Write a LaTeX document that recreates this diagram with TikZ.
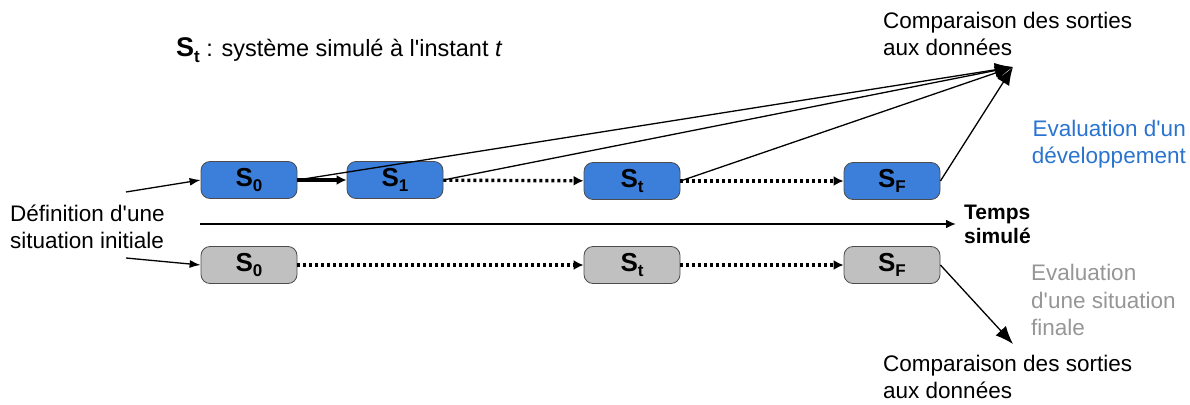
\documentclass[tikz,border=0pt]{standalone}
\usepackage{fontspec}
\setmainfont{Liberation Sans}
\usepackage{xcolor}
\usetikzlibrary{arrows.meta,positioning}

\definecolor{stateblue}{RGB}{59,127,219}
\definecolor{textblue}{RGB}{42,116,207}
\definecolor{stategray}{RGB}{192,192,192}
\definecolor{textgray}{RGB}{150,150,150}

% subscript of a state name
\newcommand{\stsub}[1]{\raisebox{-0.22em}{\fontsize{17}{17}\selectfont\bfseries #1}}

\tikzset{
    state/.style={draw=black!70, line width=0.8pt, rounded corners=9pt,
        minimum width=96pt, minimum height=37pt, inner sep=0pt,
        font=\fontsize{26}{30}\selectfont\bfseries},
    simstate/.style={state, fill=stateblue},
    finstate/.style={state, fill=stategray},
    lbl/.style={font=\fontsize{22.5}{27.5}\selectfont, align=left, inner sep=0pt},
    thin arrow/.style={line width=1.3pt, -{Latex[length=11pt,width=8pt]}},
    big arrow/.style={line width=1.3pt, -{Latex[length=18pt,width=14pt]}},
    step arrow/.style={line width=3.4pt, -{Latex[length=10pt,width=10pt]}},
    dot arrow/.style={line width=3.4pt, dash pattern=on 3pt off 3pt,
        -{Latex[length=10pt,width=10pt]}}
}

\begin{document}
\begin{tikzpicture}[x=1pt,y=-1pt]
    \useasboundingbox (0,0) rectangle (1190,404);

    % Legend
    \node[lbl, anchor=west, font=\fontsize{23.5}{27.5}\selectfont] (legend) at (176,50)
        {{\fontsize{27}{27}\selectfont\textbf{S}\stsub{t}} : système simulé à l\textquotesingle instant \textit{t}};

    % Simulated development (blue row)
    \node[simstate] (s0) at (249,180) {S\stsub{0}};
    \node[simstate] (s1) at (395,180) {S\stsub{1}};
    \node[simstate] (st) at (632,181) {S\stsub{t}};
    \node[simstate] (sf) at (892,181) {S\stsub{F}};

    \draw[step arrow] (s0) -- (s1);
    \draw[dot arrow] (s1) -- (st);
    \draw[dot arrow] (st) -- (sf);

    % Final situation (gray row)
    \node[finstate] (g0) at (249,265) {S\stsub{0}};
    \node[finstate] (gt) at (632,265) {S\stsub{t}};
    \node[finstate] (gf) at (892,265) {S\stsub{F}};

    \draw[dot arrow] (g0) -- (gt);
    \draw[dot arrow] (gt) -- (gf);

    % Simulated time
    \coordinate (t0) at (200,224);
    \coordinate (t1) at (956,224);
    \draw[line width=2.4pt, -{Latex[length=10pt,width=9pt]}] (t0) -- (t1);
    \node[lbl, anchor=west, font=\fontsize{21}{24}\selectfont\bfseries] (time) at (964,224)
        {Temps\\simulé};

    % Initial situation
    \node[lbl, anchor=west] (init) at (10,227) {Définition d\textquotesingle une\\situation initiale};
    \coordinate (i0) at (126,192);
    \coordinate (i1) at (126,258);
    \draw[thin arrow] (i0) -- (s0.west);
    \draw[thin arrow] (i1) -- (g0.west);

    % Comparison with data
    \coordinate (cmptop) at (1013,67);
    \coordinate (cmpbot) at (1013,344);
    \node[lbl, anchor=west] (dtop) at (883,34) {Comparaison des sorties\\aux données};
    \node[lbl, anchor=west] (dbot) at (883,377) {Comparaison des sorties\\aux données};

    \draw[big arrow] (s0.east) -- (cmptop);
    \draw[big arrow] (s1.east) -- (cmptop);
    \draw[big arrow] (st.east) -- (cmptop);
    \draw[big arrow] (sf.east) -- (cmptop);
    \draw[big arrow] (gf.east) -- (cmpbot);

    % Evaluation labels
    \node[lbl, anchor=east, align=right, text=textblue] (evdev) at (1186,144)
        {Evaluation d\textquotesingle un\\développement};
    \node[lbl, anchor=west, text=textgray] (evfin) at (1031,300)
        {Evaluation\\d\textquotesingle une situation\\finale};
\end{tikzpicture}
\end{document}
